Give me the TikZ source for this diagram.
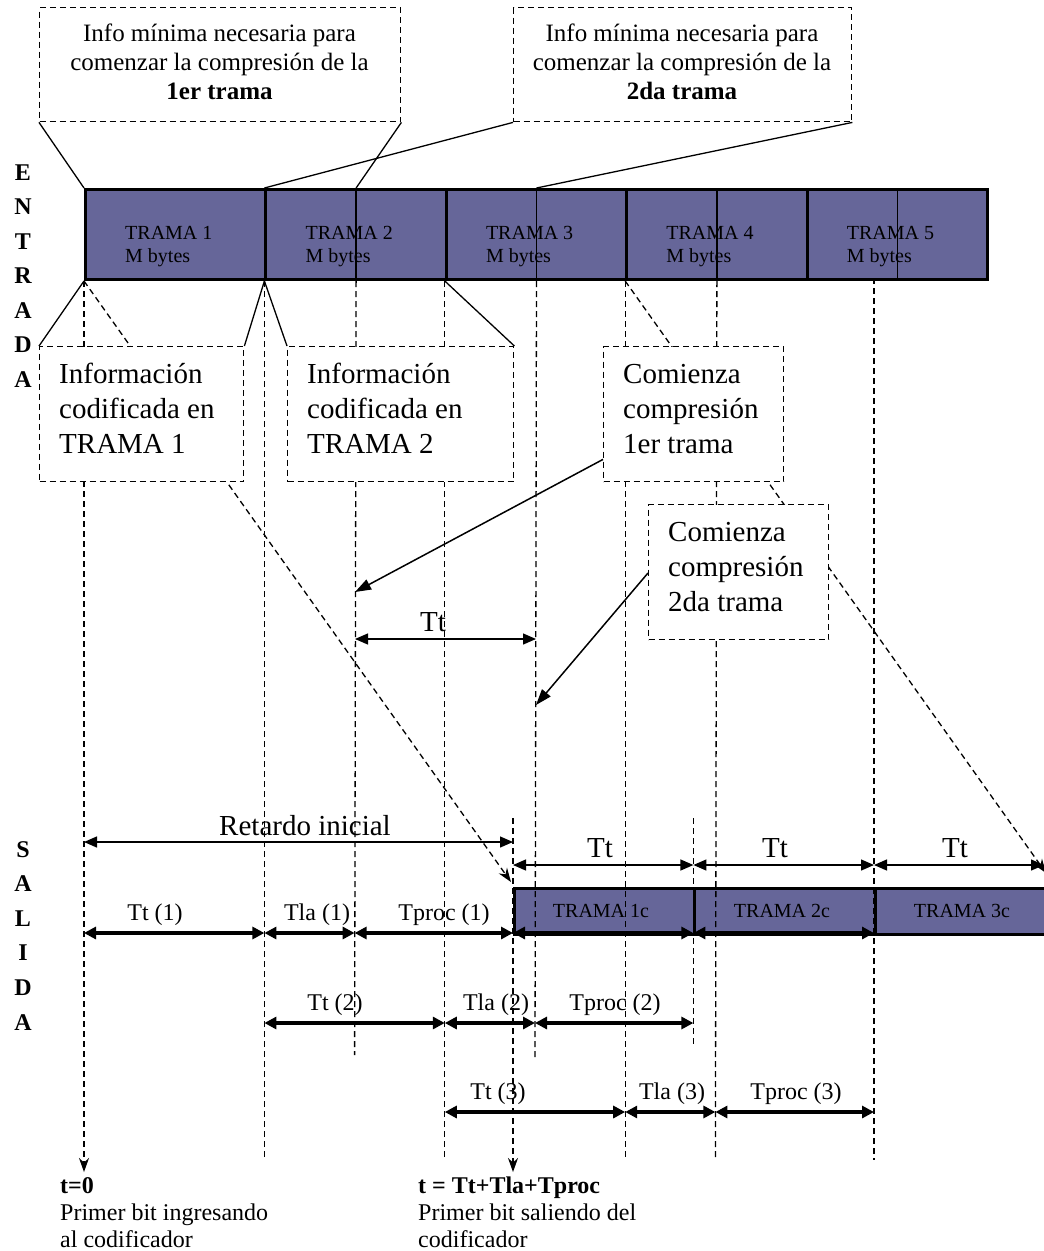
\documentclass[tikz,border=0pt]{standalone}
\usepackage{fontspec}
\setmainfont{Liberation Serif}
\usetikzlibrary{arrows.meta}
\definecolor{framefill}{RGB}{102,102,153}
\newcommand{\fsz}[2]{\fontsize{#1}{#2}\selectfont}
\newcommand{\stackl}[1]{\begin{tabular}[t]{@{}l@{}}#1\end{tabular}}
\newcommand{\stackc}[1]{\begin{tabular}[t]{@{}c@{}}#1\end{tabular}}
\begin{document}
\begin{tikzpicture}[x=1pt,y=-1pt,
  frm/.style={draw, line width=3pt, fill=framefill, minimum width=180.4pt, minimum height=90pt, anchor=north west, inner sep=0pt},
  callout/.style={draw, dash pattern=on 6pt off 4pt, line width=1.4pt, fill=white, anchor=north west, inner sep=0pt},
  guide/.style={dash pattern=on 6pt off 4pt, line width=1.3pt},
  lead/.style={line width=1.3pt},
  dimthin/.style={line width=1.3pt, {Triangle[length=13pt,width=11pt]}-{Triangle[length=13pt,width=11pt]}},
  dimthick/.style={line width=4pt, {Triangle[length=12pt,width=12pt]}-{Triangle[length=12pt,width=12pt]}},
  ptr/.style={line width=1.5pt, -{Triangle[length=16pt,width=11pt]}},
  dptr/.style={guide, -{Stealth[length=14pt,width=10pt]}},
  lbl/.style={inner sep=0pt, anchor=base},
  lblw/.style={inner sep=0pt, anchor=base west},
]
\useasboundingbox (0,0) rectangle (1044,1251);

% ---------- input frames ----------
\node[frm] (f1) at (84,188) {};
\node[frm] (f2) at (264.4,188) {};
\node[frm] (f3) at (444.8,188) {};
\node[frm] (f4) at (625.2,188) {};
\node[frm] (f5) at (805.6,188) {};
\foreach \f in {f2,f3,f4,f5} \draw[line width=1.5pt] (\f.north) -- (\f.south);
\node[lblw, font=\fsz{20}{23}] (tx1) at (125,239) {\stackl{TRAMA 1\\M bytes}};
\node[lblw, font=\fsz{20}{23}] (tx2) at (305.4,239) {\stackl{TRAMA 2\\M bytes}};
\node[lblw, font=\fsz{20}{23}] (tx3) at (485.8,239) {\stackl{TRAMA 3\\M bytes}};
\node[lblw, font=\fsz{20}{23}] (tx4) at (666.2,239) {\stackl{TRAMA 4\\M bytes}};
\node[lblw, font=\fsz{20}{23}] (tx5) at (846.6,239) {\stackl{TRAMA 5\\M bytes}};

% ---------- output frames ----------
\node[frm, minimum height=46pt] (o1) at (513,887) {};
\node[frm, minimum height=46pt] (o2) at (693.4,887) {};
\node[frm, minimum height=46pt] (o3) at (873.8,887) {};
\node[lbl, font=\fsz{20}{23}] (ot1) at (601,917) {TRAMA 1c};
\node[lbl, font=\fsz{20}{23}] (ot2) at (782,917) {TRAMA 2c};
\node[lbl, font=\fsz{20}{23}] (ot3) at (962,917) {TRAMA 3c};

% ---------- guide lines ----------
\coordinate (g0) at (84,1172);
\coordinate (g1) at (264.4,1160);
\coordinate (g1m) at (354.6,1055);
\coordinate (g2) at (444.8,1160);
\coordinate (g2m) at (535,1060);
\coordinate (g3) at (625.2,1160);
\coordinate (g3m) at (715.4,1160);
\coordinate (g4t) at (874,278);
\coordinate (g4) at (874,1160);
\coordinate (r0t) at (513,818);
\coordinate (r0) at (513,1172);
\coordinate (r1t) at (693.4,818);
\coordinate (r1) at (693.4,1045);
\draw[dptr] (f1.south west) -- (g0);
\draw[guide] (f2.south west) -- (g1);
\draw[guide] (f2.south) -- (g1m);
\draw[guide] (f3.south west) -- (g2);
\draw[guide] (f3.south) -- (g2m);
\draw[guide] (f4.south west) -- (g3);
\draw[guide] (f4.south) -- (g3m);
\draw[guide] (g4t) -- (g4);
\draw[dptr] (r0t) -- (r0);
\draw[guide] (r1t) -- (r1);

% ---------- long dashed diagonals ----------
\coordinate (d1) at (511,882);
\coordinate (d2) at (1046,873);
\draw[dptr] (f1.south west) -- (d1);
\draw[dptr] (f4.south west) -- (d2);

% ---------- top callouts ----------
\node[callout, minimum width=361pt, minimum height=114pt] (cb1) at (39,7) {};
\node[callout, minimum width=338pt, minimum height=114pt] (cb2) at (513,7) {};
\node[lbl, font=\fsz{25}{29}] (cbt1) at (219.5,41) {\stackc{Info mínima necesaria para\\comenzar la compresión de la\\\textbf{1er trama}}};
\node[lbl, font=\fsz{25}{29}] (cbt2) at (682,41) {\stackc{Info mínima necesaria para\\comenzar la compresión de la\\\textbf{2da trama}}};
\draw[lead] (cb1.south west) -- (f1.north west);
\draw[lead] (cb1.south east) -- (f2.north);
\draw[lead] (cb2.south west) -- (f2.north west);
\draw[lead] (cb2.south east) -- (f3.north);

% ---------- lower callouts ----------
\node[callout, minimum width=204pt, minimum height=135pt] (ib1) at (39,346) {};
\node[callout, minimum width=226pt, minimum height=135pt] (ib2) at (287,346) {};
\node[callout, minimum width=180pt, minimum height=135pt] (cc1) at (603,346) {};
\node[callout, minimum width=180pt, minimum height=135pt] (cc2) at (648,504) {};
\node[lblw, font=\fsz{29}{35}] (ibt1) at (59,383) {\stackl{Información\\codificada en\\TRAMA 1}};
\node[lblw, font=\fsz{29}{35}] (ibt2) at (307,383) {\stackl{Información\\codificada en\\TRAMA 2}};
\node[lblw, font=\fsz{29}{35}] (cct1) at (623,383) {\stackl{Comienza\\compresión\\1er trama}};
\node[lblw, font=\fsz{29}{35}] (cct2) at (668,541) {\stackl{Comienza\\compresión\\2da trama}};
\draw[lead] (ib1.north west) -- (f1.south west);
\draw[lead] (ib1.north east) -- (f2.south west);
\draw[lead] (ib2.north west) -- (f2.south west);
\draw[lead] (ib2.north east) -- (f3.south west);

\coordinate (p1) at (355,592);
\coordinate (p2) at (536,705);
\draw[ptr] ([yshift=23pt]cc1.south west) -- (p1);
\draw[ptr] ([yshift=-69pt]cc2.north west) -- (p2);

% ---------- middle Tt ----------
\draw[dimthin] (355,639) -- (536,639);
\node[lbl, font=\fsz{29}{35}] (ttm) at (433,631) {Tt};

% ---------- output timing ----------
\draw[dimthin] (84,842) -- (513,842);
\node[lbl, font=\fsz{29}{35}] (ret) at (305,835) {Retardo inicial};
\draw[dimthin] (513,865) -- (693.4,865);
\draw[dimthin] (693.4,865) -- (874,865);
\draw[dimthin] (874,865) -- (1044,865);
\node[lbl, font=\fsz{29}{35}] (tto1) at (600,857) {Tt};
\node[lbl, font=\fsz{29}{35}] (tto2) at (775,857) {Tt};
\node[lbl, font=\fsz{29}{35}] (tto3) at (955,857) {Tt};

\draw[dimthick] (84,933) -- (264.4,933);
\draw[dimthick] (264.4,933) -- (354.6,933);
\draw[dimthick] (354.6,933) -- (513,933);
\draw[dimthick] (513,933) -- (693.4,933);
\draw[dimthick] (693.4,933) -- (874,933);
\node[lbl, font=\fsz{24}{27}] (l11) at (155,920) {Tt (1)};
\node[lbl, font=\fsz{24}{27}] (l12) at (317,920) {Tla (1)};
\node[lbl, font=\fsz{24}{27}] (l13) at (444,920) {Tproc (1)};

\draw[dimthick] (264.4,1023) -- (444.8,1023);
\draw[dimthick] (444.8,1023) -- (535,1023);
\draw[dimthick] (535,1023) -- (693.4,1023);
\node[lbl, font=\fsz{24}{27}] (l21) at (335,1010) {Tt (2)};
\node[lbl, font=\fsz{24}{27}] (l22) at (496,1010) {Tla (2)};
\node[lbl, font=\fsz{24}{27}] (l23) at (615,1010) {Tproc (2)};

\draw[dimthick] (444.8,1112) -- (625.2,1112);
\draw[dimthick] (625.2,1112) -- (715.4,1112);
\draw[dimthick] (715.4,1112) -- (874,1112);
\node[lbl, font=\fsz{24}{27}] (l31) at (498,1099) {Tt (3)};
\node[lbl, font=\fsz{24}{27}] (l32) at (672,1099) {Tla (3)};
\node[lbl, font=\fsz{24}{27}] (l33) at (796,1099) {Tproc (3)};

% ---------- side labels ----------
\node[lbl, font=\bfseries\fsz{24}{34.5}] (entrada) at (23,180) {\stackc{E\\N\\T\\R\\A\\D\\A}};
\node[lbl, font=\bfseries\fsz{24}{34.6}] (salida) at (23,857) {\stackc{S\\A\\L\\I\\D\\A}};

% ---------- bottom notes ----------
\node[lblw, font=\fsz{24}{27}] (n1) at (60,1193) {\stackl{\textbf{t=0}\\Primer bit ingresando\\al codificador}};
\node[lblw, font=\fsz{24}{27}] (n2) at (418,1193) {\stackl{\textbf{t = Tt+Tla+Tproc}\\Primer bit saliendo del\\codificador}};
\end{tikzpicture}
\end{document}
